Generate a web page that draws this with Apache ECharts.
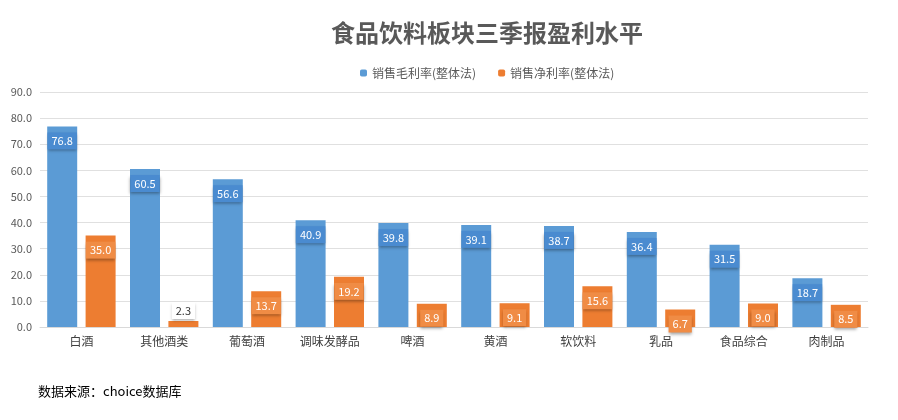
<!DOCTYPE html>
<html>
<head>
<meta charset="utf-8">
<script src="https://cdn.jsdelivr.net/npm/echarts@6/dist/echarts.min.js"></script>
<style>
html,body{margin:0;padding:0;background:#fff;}
#main{width:898px;height:420px;}
</style>
</head>
<body>
<div id="main"></div>
<script>
var categories = ['白酒', '其他酒类', '葡萄酒', '调味发酵品', '啤酒', '黄酒', '软饮料', '乳品', '食品综合', '肉制品'];
var grossMargin = [76.8, 60.5, 56.6, 40.9, 39.8, 39.1, 38.7, 36.4, 31.5, 18.7];
var netMargin = [35.0, 2.3, 13.7, 19.2, 8.9, 9.1, 15.6, 6.7, 9.0, 8.5];
var seriesNames = ['销售毛利率(整体法)', '销售净利率(整体法)'];

var myChart = echarts.init(document.getElementById('main'));

// 柱内标签：同色底块加阴影
function insideLabel(color) {
    return {
        show: true,
        position: 'insideTop',
        distance: 6,
        formatter: function (p) { return p.value.toFixed(1); },
        color: '#fff',
        fontSize: 11,
        backgroundColor: color,
        padding: [3, 4],
        shadowColor: 'rgba(0,0,0,0.35)',
        shadowBlur: 3,
        shadowOffsetY: 2
    };
}

var netData = netMargin.map(function (v) {
    if (v < 5) {
        return { value: v, label: { position: 'top', color: '#333', backgroundColor: '#fff', distance: 2 } };
    }
    return v;
});

var option = {
    textStyle: { fontFamily: 'Noto Sans CJK SC' },
    title: {
        text: '食品饮料板块三季报盈利水平',
        left: 326,
        top: 16,
        textStyle: { fontSize: 24, fontWeight: 'bold', color: '#595959' }
    },
    legend: {
        data: seriesNames,
        top: 62,
        left: 355,
        itemWidth: 7,
        itemHeight: 7,
        itemGap: 22,
        textStyle: { fontSize: 12, color: '#595959' }
    },
    grid: { left: 40, right: 30, top: 92, bottom: 93, containLabel: false },
    xAxis: {
        type: 'category',
        data: categories,
        axisTick: { show: false },
        axisLine: { lineStyle: { color: '#d9d9d9' } },
        axisLabel: { color: '#404040', fontSize: 12 }
    },
    yAxis: {
        type: 'value',
        min: 0,
        max: 90,
        interval: 10,
        axisLabel: { color: '#595959', fontSize: 11, formatter: function (v) { return v.toFixed(1); } },
        splitLine: { lineStyle: { color: '#e0e0e0' } }
    },
    series: [{
        name: seriesNames[0],
        type: 'bar',
        data: grossMargin,
        barWidth: 30,
        barGap: '28%',
        itemStyle: { color: '#5b9bd5' },
        label: insideLabel('#4a8bd0')
    }, {
        name: seriesNames[1],
        type: 'bar',
        data: netData,
        barWidth: 30,
        itemStyle: { color: '#ed7d31' },
        label: insideLabel('#f08c45')
    }],
    graphic: [{
        type: 'text',
        left: 38,
        top: 385,
        style: { text: '数据来源：choice数据库', fontSize: 13, fill: '#000', fontFamily: 'Noto Sans CJK SC' }
    }]
};

myChart.setOption(option);
</script>
</body>
</html>
